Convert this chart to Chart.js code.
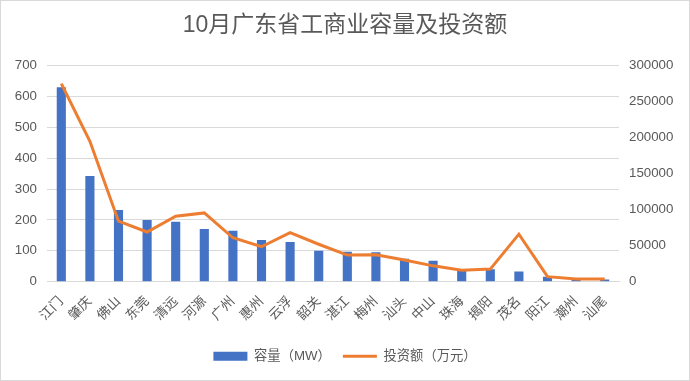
<!DOCTYPE html>
<html>
<head>
<meta charset="utf-8">
<script src="https://cdn.jsdelivr.net/npm/chart.js@4/dist/chart.umd.min.js"></script>
<style>
html,body{margin:0;padding:0;background:#fff;}
#wrap{width:690px;height:381px;}
</style>
</head>
<body>
<div id="wrap"><canvas id="c" width="690" height="381"></canvas></div>
<script>
const categories = ["江门","肇庆","佛山","东莞","清远","河源","广州","惠州","云浮","韶关","湛江","梅州","汕头","中山","珠海","揭阳","茂名","阳江","潮州","汕尾"];
const capacityMW = [630,342,232,200,194,171,165,135,129,100,97,95,74,68,36,40,33,16,9,7];
const investment = [275000,195000,84000,69000,91000,95500,61000,48500,68000,52000,37000,37300,30000,22000,16000,17500,66000,7000,3700,3700];
const leftTicks = [0,100,200,300,400,500,600,700];
const rightTicks = [0,50000,100000,150000,200000,250000,300000];
const chartTitle = "10月广东省工商业容量及投资额";
const seriesNames = ["容量（MW）","投资额（万元）"];

const FONT = "'Liberation Sans','Noto Sans CJK SC',sans-serif";
const GREY = "#595959";
const BLUE = "#4472C4";
const ORANGE = "#ED7D31";
const FS = 13.3;

const bgPlugin = {
  id: 'bg',
  beforeDraw(chart){
    const ctx = chart.ctx;
    ctx.save();
    ctx.fillStyle = '#fff';
    ctx.fillRect(0,0,chart.width,chart.height);
    ctx.strokeStyle = '#d9d9d9';
    ctx.lineWidth = 1;
    ctx.strokeRect(0.5,0.5,chart.width-1,chart.height-1);
    ctx.restore();
  }
};

new Chart(document.getElementById('c'), {
  type: 'bar',
  data: {
    labels: categories,
    datasets: [
      {
        type: 'bar',
        label: seriesNames[0],
        data: capacityMW,
        backgroundColor: BLUE,
        borderWidth: 0,
        yAxisID: 'y',
        order: 2,
        barPercentage: 0.55,
        categoryPercentage: 0.58
      },
      {
        type: 'line',
        label: seriesNames[1],
        data: investment,
        borderColor: ORANGE,
        backgroundColor: ORANGE,
        borderWidth: 3,
        pointRadius: 0,
        tension: 0,
        yAxisID: 'y1',
        order: 1
      }
    ]
  },
  options: {
    responsive: false,
    animation: false,
    devicePixelRatio: 1,
    layout: { padding: { left: 0, right: 0, top: 0, bottom: 8 } },
    plugins: {
      tooltip: { enabled: false },
      title: {
        display: true,
        text: chartTitle,
        color: GREY,
        font: { family: FONT, size: 23, weight: 'normal' },
        padding: { top: 12, bottom: 26 }
      },
      legend: {
        display: true,
        position: 'bottom',
        labels: {
          color: GREY,
          font: { family: FONT, size: FS },
          usePointStyle: true,
          pointStyleWidth: 34,
          boxHeight: 9,
          padding: 12,
          generateLabels(chart){
            const items = Chart.defaults.plugins.legend.labels.generateLabels(chart);
            items.sort((a,b)=>a.datasetIndex-b.datasetIndex);
            items.forEach(it=>{
              if(it.datasetIndex===0){ it.pointStyle='rect'; it.lineWidth=0; it.fillStyle=BLUE; it.strokeStyle=BLUE; }
              else { it.pointStyle='line'; it.lineWidth=3; it.strokeStyle=ORANGE; it.fillStyle=ORANGE; }
            });
            return items;
          }
        }
      }
    },
    scales: {
      x: {
        grid: { display: false, drawTicks: false },
        border: { display: true, color: '#d9d9d9' },
        ticks: {
          color: GREY,
          font: { family: FONT, size: FS },
          minRotation: 45,
          maxRotation: 45,
          autoSkip: false,
          padding: 12
        },
        afterFit(scale){ scale.height = 56; }
      },
      y: {
        position: 'left',
        min: 0, max: 700,
        afterBuildTicks(scale){ scale.ticks = leftTicks.map(v=>({value:v})); },
        grid: { color: '#d9d9d9', drawTicks: false },
        border: { display: false },
        ticks: { color: GREY, font: { family: FONT, size: FS }, padding: 10, callback: v => String(v) },
        afterFit(scale){ scale.width = 47; }
      },
      y1: {
        position: 'right',
        min: 0, max: 300000,
        afterBuildTicks(scale){ scale.ticks = rightTicks.map(v=>({value:v})); },
        grid: { display: false, drawTicks: false },
        border: { display: false },
        ticks: { color: GREY, font: { family: FONT, size: FS }, padding: 10, callback: v => String(v) },
        afterFit(scale){ scale.width = 71; }
      }
    }
  },
  plugins: [bgPlugin]
});
</script>
</body>
</html>
